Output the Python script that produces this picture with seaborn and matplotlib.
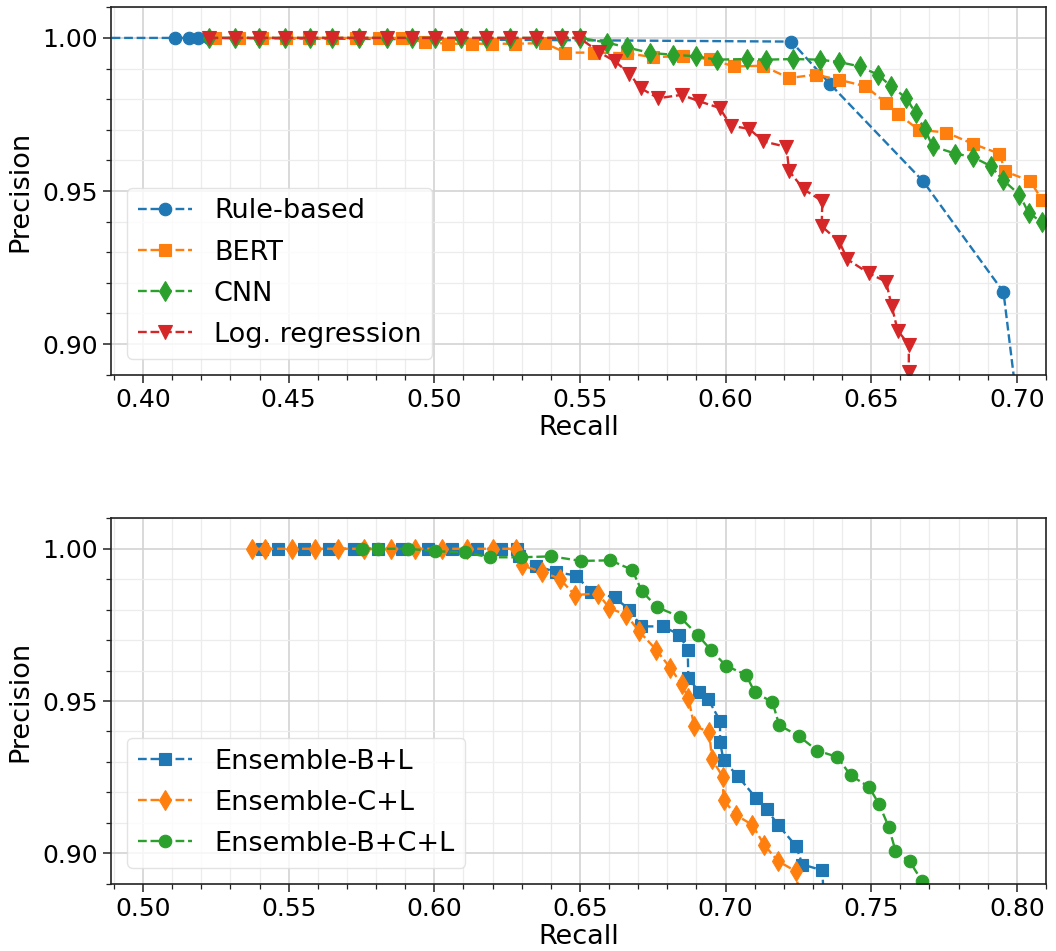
import numpy as np
import pandas as pd
import matplotlib
matplotlib.use("Agg")
import matplotlib.pyplot as plt
from matplotlib.ticker import MultipleLocator, FormatStrFormatter
import seaborn as sns

# ---------------- data: top panel ----------------
rule_x = [0.350, 0.411, 0.4158, 0.419, 0.4225, 0.6226, 0.6358, 0.6678, 0.6954, 0.7040]
rule_y = [1.0, 1.0, 1.0, 1.0, 1.0, 0.9988, 0.985, 0.9532, 0.917, 0.85]

bert_x = [0.4248, 0.4330, 0.4410, 0.4490, 0.4570, 0.4650, 0.4730, 0.4810, 0.4890,
          0.4968, 0.5048, 0.5128, 0.5197, 0.5276, 0.5379, 0.5450, 0.5547, 0.5661,
          0.5752, 0.5853, 0.5947, 0.6029, 0.6127, 0.6218, 0.6309, 0.6391, 0.6480,
          0.6549, 0.6591, 0.6663, 0.6758, 0.6849, 0.6940, 0.6960, 0.7046, 0.7086, 0.7150]
bert_y = [1.0, 1.0, 1.0, 1.0, 1.0, 1.0, 1.0, 1.0, 1.0,
          0.9986, 0.9981, 0.9981, 0.9981, 0.9981, 0.9983, 0.9952, 0.9952, 0.9950,
          0.9937, 0.9941, 0.9930, 0.9907, 0.9909, 0.9869, 0.9880, 0.9863, 0.9842,
          0.9789, 0.9752, 0.9700, 0.9691, 0.9654, 0.9622, 0.9564, 0.9532, 0.9472, 0.9400]

cnn_x = [0.4228, 0.4317, 0.4397, 0.4486, 0.4574, 0.4648, 0.4740, 0.4837, 0.4922,
         0.5002, 0.5091, 0.5179, 0.5259, 0.5350, 0.5438, 0.5501, 0.5592, 0.5661,
         0.5741, 0.5821, 0.5898, 0.5969, 0.6072, 0.6140, 0.6232, 0.6323, 0.6391,
         0.6460, 0.6523, 0.6568, 0.6620, 0.6652, 0.6683, 0.6711, 0.6789, 0.6849,
         0.6911, 0.6951, 0.7009, 0.7040, 0.7086, 0.7140]
cnn_y = [1.0, 1.0, 1.0, 1.0, 1.0, 1.0, 1.0, 1.0, 1.0,
         1.0, 1.0, 1.0, 1.0, 1.0, 1.0, 1.0, 0.9985, 0.9969,
         0.9951, 0.9945, 0.9940, 0.9929, 0.9931, 0.9929, 0.9931, 0.9929, 0.9921,
         0.9907, 0.9880, 0.9842, 0.9804, 0.9755, 0.9703, 0.9646, 0.9622, 0.9611,
         0.9581, 0.9537, 0.9488, 0.9429, 0.9398, 0.9330]

lr_x = [0.4228, 0.4317, 0.4397, 0.4486, 0.4574, 0.4648, 0.4740, 0.4837, 0.4922,
        0.5002, 0.5091, 0.5179, 0.5259, 0.5350, 0.5436, 0.5498, 0.5567, 0.5621,
        0.5670, 0.5708, 0.5769, 0.5849, 0.5910, 0.5980, 0.6018, 0.6081, 0.6130,
        0.6209, 0.6218, 0.6269, 0.6332, 0.6330, 0.6391, 0.6418, 0.6492, 0.6551,
        0.6570, 0.6591, 0.6629, 0.6629, 0.6632]
lr_y = [1.0, 1.0, 1.0, 1.0, 1.0, 1.0, 1.0, 1.0, 1.0,
        1.0, 1.0, 1.0, 1.0, 1.0, 1.0, 1.0, 0.9953, 0.9923,
        0.9883, 0.9836, 0.9803, 0.9814, 0.9793, 0.9771, 0.9713, 0.9703, 0.9662,
        0.9644, 0.9565, 0.9505, 0.9467, 0.9385, 0.9333, 0.9277, 0.9231, 0.9204,
        0.9125, 0.9044, 0.8998, 0.8908, 0.8800]

# ---------------- data: bottom panel ----------------
ebl_x = [0.5409, 0.5464, 0.5552, 0.5639, 0.5723, 0.5808, 0.5888, 0.5979, 0.6059,
         0.6148, 0.6228, 0.6283, 0.6290, 0.6350, 0.6419, 0.6487, 0.6539, 0.6619,
         0.6670, 0.6710, 0.6784, 0.6841, 0.6870, 0.6872, 0.6910, 0.6940, 0.6981,
         0.6981, 0.6993, 0.7041, 0.7104, 0.7141, 0.7180, 0.7241, 0.7264, 0.7332, 0.7340]
ebl_y = [1.0, 1.0, 1.0, 1.0, 1.0, 1.0, 1.0, 1.0, 1.0,
         1.0, 1.0, 1.0, 0.9975, 0.9944, 0.9923, 0.9912, 0.9858, 0.9840,
         0.9800, 0.9745, 0.9745, 0.9718, 0.9669, 0.9577, 0.9528, 0.9506, 0.9435,
         0.9365, 0.9305, 0.9254, 0.9182, 0.9145, 0.9093, 0.9025, 0.8963, 0.8944, 0.8800]

ecl_x = [0.5374, 0.5420, 0.5511, 0.5591, 0.5671, 0.5758, 0.5851, 0.5932, 0.6025,
         0.6111, 0.6202, 0.6282, 0.6300, 0.6368, 0.6430, 0.6482, 0.6562, 0.6601,
         0.6659, 0.6701, 0.6761, 0.6810, 0.6849, 0.6872, 0.6892, 0.6944, 0.6953,
         0.6990, 0.6993, 0.7035, 0.7092, 0.7132, 0.7180, 0.7241, 0.7255]
ecl_y = [1.0, 1.0, 1.0, 1.0, 1.0, 1.0, 1.0, 1.0, 1.0,
         1.0, 1.0, 1.0, 0.9946, 0.9924, 0.9902, 0.9848, 0.9853, 0.9805,
         0.9783, 0.9731, 0.9669, 0.9609, 0.9555, 0.9511, 0.9419, 0.9397, 0.9310,
         0.9251, 0.9175, 0.9126, 0.9093, 0.9028, 0.8974, 0.8941, 0.8850]

ebcl_x = [0.5751, 0.5808, 0.5911, 0.6002, 0.6105, 0.6190, 0.6297, 0.6402, 0.6504,
          0.6604, 0.6679, 0.6713, 0.6765, 0.6842, 0.6904, 0.6950, 0.7001, 0.7070,
          0.7100, 0.7161, 0.7184, 0.7252, 0.7315, 0.7384, 0.7429, 0.7492, 0.7526,
          0.7560, 0.7583, 0.7632, 0.7675, 0.7700]
ebcl_y = [1.0, 1.0, 1.0, 0.9992, 0.9988, 0.9972, 0.9972, 0.9975, 0.9960,
          0.9962, 0.9931, 0.9860, 0.9808, 0.9777, 0.9717, 0.9667, 0.9616, 0.9586,
          0.9529, 0.9496, 0.9421, 0.9384, 0.9337, 0.9316, 0.9256, 0.9218, 0.9163,
          0.9087, 0.9009, 0.8973, 0.8908, 0.8800]

top_labels = ["Rule-based", "BERT", "CNN", "Log. regression"]
bottom_labels = ["Ensemble-B+L", "Ensemble-C+L", "Ensemble-B+C+L"]
top_xticks = [0.40, 0.45, 0.50, 0.55, 0.60, 0.65, 0.70]
bottom_xticks = [0.50, 0.55, 0.60, 0.65, 0.70, 0.75, 0.80]
yticks = [0.90, 0.95, 1.00]

# ---------------- style ----------------
sns.set_theme(style="whitegrid")
plt.rcParams["font.family"] = ["DejaVu Sans"]
plt.rcParams["text.color"] = "black"
pal = sns.color_palette("tab10")

fig = plt.figure(figsize=(10.56, 9.51), dpi=100)
ax1 = fig.add_axes([111/1056, 1 - 375/951, (1046-111)/1056, (375-7)/951])
ax2 = fig.add_axes([111/1056, 1 - 884/951, (1046-111)/1056, (884-518)/951])


def draw(ax, x, y, color, marker, label, ms):
    sns.lineplot(x=x, y=y, ax=ax, sort=False, estimator=None, color=color,
                 marker=marker, linestyle="--", linewidth=1.7, markersize=ms,
                 markeredgecolor=color, markeredgewidth=0.8, label=label)


draw(ax1, rule_x, rule_y, pal[0], "o", top_labels[0], 9)
draw(ax1, bert_x, bert_y, pal[1], "s", top_labels[1], 9)
draw(ax1, cnn_x, cnn_y, pal[2], "d", top_labels[2], 10)
draw(ax1, lr_x, lr_y, pal[3], "v", top_labels[3], 10)

draw(ax2, ebl_x, ebl_y, pal[0], "s", bottom_labels[0], 9)
draw(ax2, ecl_x, ecl_y, pal[1], "d", bottom_labels[1], 10)
draw(ax2, ebcl_x, ebcl_y, pal[2], "o", bottom_labels[2], 9)


def style(ax, xlim, xticks):
    ax.set_xlim(*xlim)
    ax.set_ylim(0.8899, 1.0101)
    ax.set_xticks(xticks)
    ax.set_yticks(yticks)
    ax.xaxis.set_minor_locator(MultipleLocator(0.01))
    ax.yaxis.set_minor_locator(MultipleLocator(0.01))
    ax.xaxis.set_major_formatter(FormatStrFormatter("%.2f"))
    ax.yaxis.set_major_formatter(FormatStrFormatter("%.2f"))
    ax.grid(which="major", color="#d3d3d3", linewidth=1.2)
    ax.grid(which="minor", color="#ececec", linewidth=0.9)
    ax.set_axisbelow(True)
    for s in ax.spines.values():
        s.set_color("#222222")
        s.set_linewidth(1.2)
    ax.tick_params(axis="both", which="major", direction="out", length=6, width=1.1,
                   color="#222222", labelsize=18, labelcolor="black",
                   bottom=True, left=True)
    ax.tick_params(axis="both", which="minor", direction="out", length=3.5, width=0.9,
                   color="#222222", bottom=True, left=True)
    ax.set_xlabel("Recall", fontsize=19.5, color="black", labelpad=2)
    ax.set_ylabel("Precision", fontsize=19.5, color="black", labelpad=6)
    leg = ax.legend(loc="lower left", fontsize=19.5, frameon=True, framealpha=0.8,
                    borderaxespad=0.6, handlelength=2.0, labelspacing=0.56)
    leg.get_frame().set_edgecolor("#dddddd")
    leg.get_frame().set_facecolor("white")
    for t in leg.get_texts():
        t.set_color("black")


style(ax1, (0.389, 0.710), top_xticks)
style(ax2, (0.489, 0.810), bottom_xticks)

fig.savefig("out.png", dpi=100)
